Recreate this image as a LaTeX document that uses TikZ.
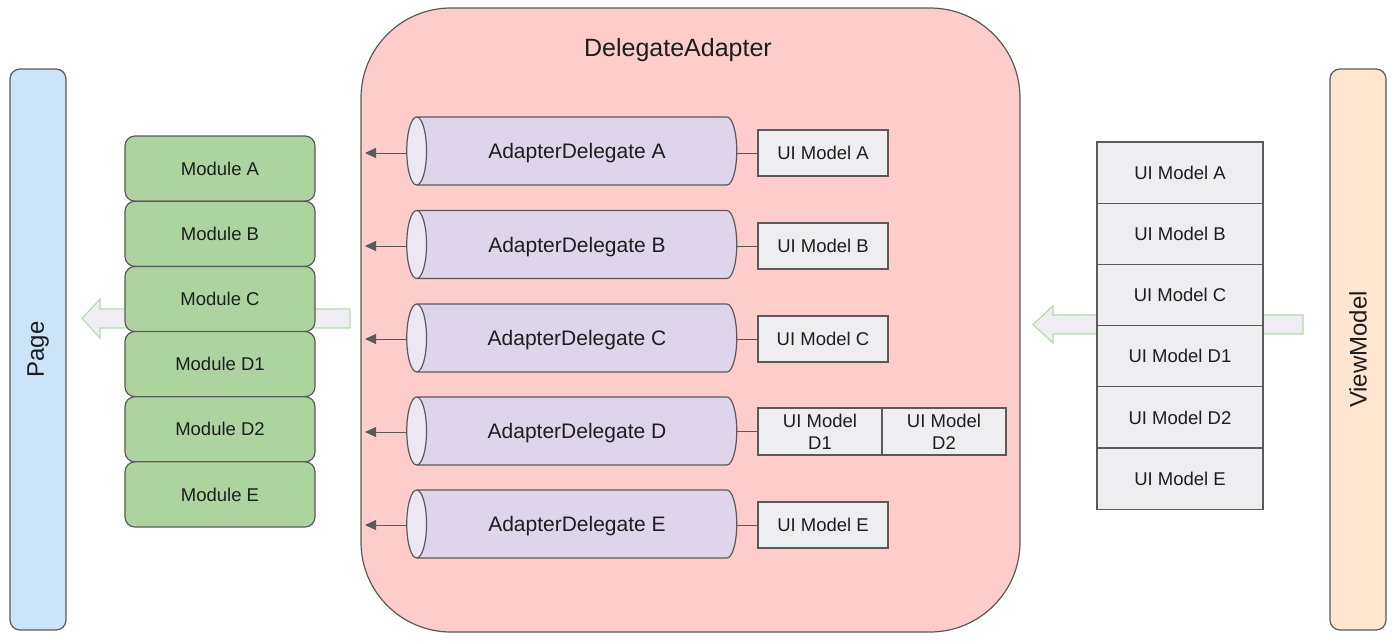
\documentclass[tikz,border=0pt]{standalone}
\usepackage{fontspec}
\setmainfont{Liberation Sans}
\usetikzlibrary{shapes.geometric,arrows.meta}
\definecolor{linecol}{HTML}{5A5A5A}
\definecolor{textcol}{HTML}{1E1E1E}
\definecolor{pagefill}{HTML}{CCE4F7}
\definecolor{vmfill}{HTML}{FFE6CF}
\definecolor{modfill}{HTML}{ADD49F}
\definecolor{dafill}{HTML}{FFCCCC}
\definecolor{cylfill}{HTML}{DED5EA}
\definecolor{cylend}{HTML}{ECE8F3}
\definecolor{uifill}{HTML}{EEEEF1}
\definecolor{bigfill}{HTML}{F0EEF4}
\definecolor{bigline}{HTML}{B5DDAA}
\begin{document}
\begin{tikzpicture}[x=1pt,y=-1pt,
  every node/.style={text=textcol},
  side/.style={draw=linecol, line width=1.2pt, rounded corners=10pt, rotate=90,
    minimum width=561pt, minimum height=56pt, font=\fontsize{24}{28}\selectfont},
  module/.style={draw=linecol, fill=modfill, line width=1.2pt, rounded corners=10pt,
    minimum width=190pt, minimum height=65.2pt, font=\fontsize{18.5}{22}\selectfont},
  cyl/.style={shape=cylinder, shape border rotate=180, aspect=1.3, draw=linecol, line width=1.2pt,
    cylinder uses custom fill, cylinder body fill=cylfill, cylinder end fill=cylend,
    minimum width=68pt, minimum height=330pt, inner sep=0pt, text depth=0pt,
    font=\fontsize{21}{25}\selectfont},
  uibox/.style={draw=linecol, fill=uifill, line width=1.2pt, minimum width=130pt, minimum height=46pt,
    font=\fontsize{18.5}{22}\selectfont, align=center},
  vmbox/.style={uibox, minimum width=166pt, minimum height=61.2pt},
  bigarrow/.style={draw=bigline, fill=bigfill, line width=1.2pt},
  link/.style={draw=linecol, line width=1pt},
  feed/.style={link, -{Triangle[length=11pt,width=10pt]}}]
  \useasboundingbox[fill=white] (0,0) rectangle (1400,641);

  % outer boxes
  \node[side, fill=pagefill] (page) at (38,349.5) {Page};
  \node[side, fill=vmfill] (vm) at (1358,349.5) {ViewModel};
  \node[draw=linecol, fill=dafill, line width=1.2pt, rounded corners=90pt,
    minimum width=659pt, minimum height=624pt] (da) at (690.5,320) {};
  \node[font=\fontsize{25}{30}\selectfont] (title) at (678,50) {DelegateAdapter};

  % big arrows
  \draw[bigarrow] (350,309) -- (100,309) -- (100,299) -- (82,318.5) -- (100,338) -- (100,328) -- (350,328) -- cycle;
  \draw[bigarrow] (1303,315) -- (1053,315) -- (1053,306) -- (1033,324.5) -- (1053,343) -- (1053,334) -- (1303,334) -- cycle;

  % modules
  \node[module] (mA) at (220,168.6) {Module A};
  \node[module] (mB) at (220,233.8) {Module B};
  \node[module] (mC) at (220,299) {Module C};
  \node[module] (mD1) at (220,364.1) {Module D1};
  \node[module] (mD2) at (220,429.3) {Module D2};
  \node[module] (mE) at (220,494.4) {Module E};

  % view model stack
  \node[vmbox] (vA) at (1180,172.6) {UI Model A};
  \node[vmbox] (vB) at (1180,233.8) {UI Model B};
  \node[vmbox] (vC) at (1180,295) {UI Model C};
  \node[vmbox] (vD1) at (1180,356.2) {UI Model D1};
  \node[vmbox] (vD2) at (1180,417.4) {UI Model D2};
  \node[vmbox] (vE) at (1180,478.6) {UI Model E};

  % delegates
  \node[cyl] (cA) at (577,151) {AdapterDelegate A};
  \node[cyl] (cB) at (577,244.5) {AdapterDelegate B};
  \node[cyl] (cC) at (577,338) {AdapterDelegate C};
  \node[cyl] (cD) at (577,431) {AdapterDelegate D};
  \node[cyl] (cE) at (577,524) {AdapterDelegate E};

  \node[uibox] (uA) at (823,153) {UI Model A};
  \node[uibox] (uB) at (823,246) {UI Model B};
  \node[uibox] (uC) at (823,339) {UI Model C};
  \node[uibox, minimum width=124pt, minimum height=47pt, inner sep=1pt] (uD1) at (820,431.5) {UI Model\\D1};
  \node[uibox, minimum width=124pt, minimum height=47pt, inner sep=1pt] (uD2) at (944,431.5) {UI Model\\D2};
  \node[uibox] (uE) at (823,525) {UI Model E};

  \coordinate (oA) at (365,153);
  \coordinate (oB) at (365,246);
  \coordinate (oC) at (365,339);
  \coordinate (oD) at (365,432);
  \coordinate (oE) at (365,525);

  \draw[feed] (cA.west |- oA) -- (oA);
  \draw[feed] (cB.west |- oB) -- (oB);
  \draw[feed] (cC.west |- oC) -- (oC);
  \draw[feed] (cD.west |- oD) -- (oD);
  \draw[feed] (cE.west |- oE) -- (oE);

  \draw[link] (cA.east |- uA) -- (uA.west);
  \draw[link] (cB.east |- uB) -- (uB.west);
  \draw[link] (cC.east |- uC) -- (uC.west);
  \draw[link] (cD.east |- uD1) -- (uD1.west);
  \draw[link] (cE.east |- uE) -- (uE.west);
\end{tikzpicture}
\end{document}
